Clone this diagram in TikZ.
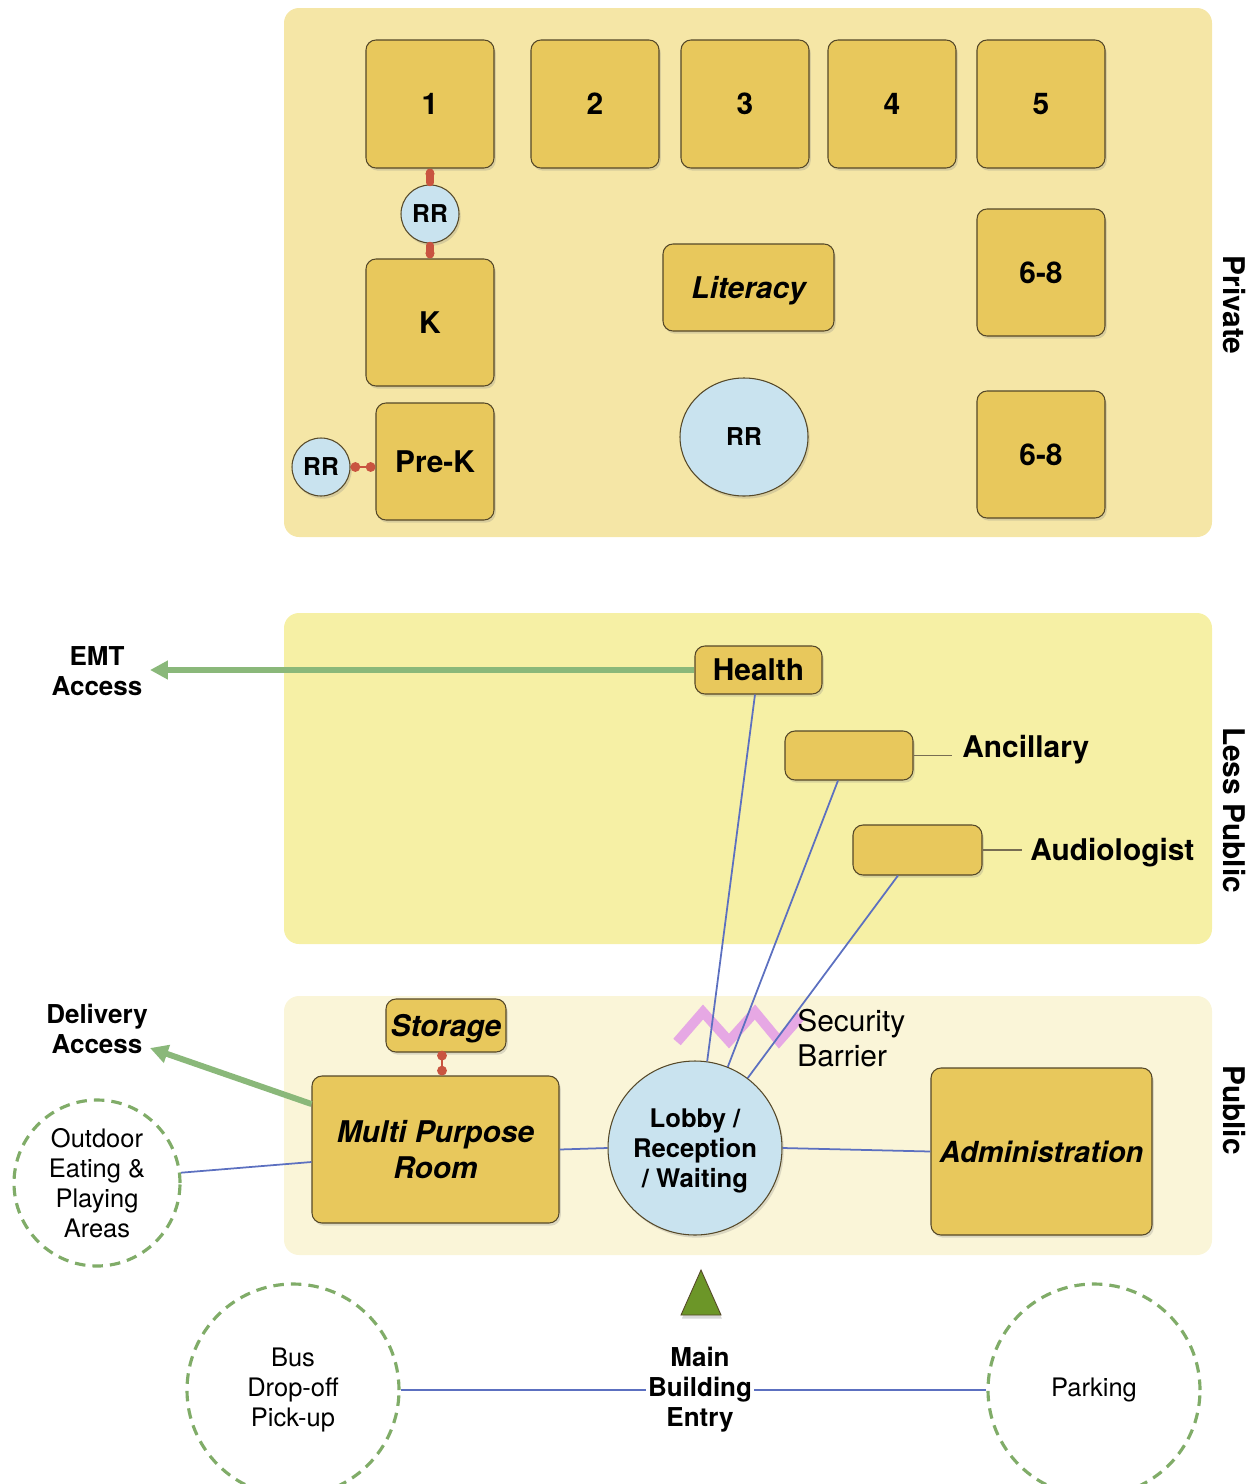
\documentclass[tikz,border=0pt]{standalone}
\usepackage{fontspec}
\setmainfont{TeX Gyre Heros}
\usetikzlibrary{arrows.meta,shadows,shapes.geometric}

\definecolor{privbg}{RGB}{245,230,166}
\definecolor{lessbg}{RGB}{246,240,165}
\definecolor{pubbg}{RGB}{250,245,216}
\definecolor{roomfill}{RGB}{232,200,92}
\definecolor{roomline}{RGB}{85,72,40}
\definecolor{rrfill}{RGB}{201,227,239}
\definecolor{rrred}{RGB}{201,84,64}
\definecolor{linkblue}{RGB}{92,112,192}
\definecolor{accgreen}{RGB}{138,184,122}
\definecolor{zonegreen}{RGB}{128,172,104}
\definecolor{entrygreen}{RGB}{108,150,40}
\definecolor{barrierpink}{RGB}{230,168,228}

\newcommand{\fsz}[2]{\fontsize{#1}{#2}\selectfont}

\begin{document}
\begin{tikzpicture}[x=0.02cm, y=-0.02cm,
  sz/.style 2 args={minimum width=#1*0.02cm, minimum height=#2*0.02cm},
  room/.style={draw=roomline, line width=0.6pt, fill=roomfill, rounded corners=0.2cm,
    inner sep=0pt, align=center, font=\bfseries\fsz{17}{20}, text depth=0pt,
    drop shadow={shadow xshift=1pt, shadow yshift=-1.5pt, opacity=0.25}},
  rr/.style={draw=roomline, line width=0.6pt, fill=rrfill, circle, inner sep=0pt,
    font=\bfseries\fsz{14}{16},
    drop shadow={shadow xshift=1pt, shadow yshift=-1.5pt, opacity=0.25}},
  zone/.style={draw=zonegreen, line width=1.8pt, dash pattern=on 6pt off 4pt,
    circle, inner sep=0pt, align=center, font=\fsz{14.5}{17}},
  link/.style={draw=linkblue, line width=1pt},
  tick/.style={draw=roomline!80, line width=0.6pt},
  wetlink/.style={draw=rrred, line width=4pt, line cap=round},
  drylink/.style={draw=rrred, line width=1.4pt, {Circle[length=5.5pt]}-{Circle[length=5.5pt]}},
  access/.style={draw=accgreen, line width=3.4pt, -{Triangle[length=0.36cm, width=0.36cm]}},
  label/.style={font=\bfseries\fsz{14.8}{17}, align=center},
  side/.style={font=\bfseries\fsz{17}{20}, rotate=-90}
]
\useasboundingbox (0,0) rectangle (1257,1484);

% ---- zone backgrounds
\fill[privbg, rounded corners=0.3cm] (284,8) rectangle (1212,537);
\fill[lessbg, rounded corners=0.3cm] (284,613) rectangle (1212,944);
\fill[pubbg, rounded corners=0.3cm] (284,996) rectangle (1212,1255);

% ---- private wing
\node[room, sz={128}{128}] (c1) at (430,104) {1};
\node[room, sz={128}{128}] (c2) at (595,104) {2};
\node[room, sz={128}{128}] (c3) at (745,104) {3};
\node[room, sz={128}{128}] (c4) at (892,104) {4};
\node[room, sz={128}{128}] (c5) at (1041,104) {5};
\node[rr, minimum size=58*0.02cm] (rr1) at (430,214) {RR};
\node[room, sz={128}{127}] (ck) at (430,322.5) {K};
\node[room, sz={171}{87}, font=\bfseries\itshape\fsz{17}{20}] (lit) at (748.5,287.5) {Literacy};
\node[room, sz={128}{127}] (c68a) at (1041,272.5) {6-8};
\node[rr, ellipse, sz={128}{118}] (rrbig) at (744,437) {RR};
\node[room, sz={128}{127}] (c68b) at (1041,454.5) {6-8};
\node[room, sz={118}{117}] (prek) at (435,461.5) {Pre-K};
\node[rr, minimum size=58*0.02cm] (rr2) at (321,467) {RR};

\draw[wetlink] ([yshift=-2pt]c1.south) -- ([yshift=1pt]rr1.north);
\draw[wetlink] ([yshift=-1pt]rr1.south) -- ([yshift=2pt]ck.north);
\foreach \p in {([yshift=-3pt]c1.south), ([yshift=3pt]ck.north)}
  \fill[rrred] \p circle (2.6pt);
\draw[drylink] (rr2.east) -- (rr2.east -| prek.west);

% ---- less public wing
\node[room, sz={127}{48}] (health) at (758.5,670) {Health};
\node[room, sz={128}{49}] (anc) at (849,755.5) {};
\node[room, sz={129}{50}] (aud) at (917.5,850) {};
\node[font=\bfseries\fsz{17}{20}, anchor=west, inner sep=0pt] (anclab) at (962,750) {Ancillary};
\node[font=\bfseries\fsz{17}{20}, anchor=west, inner sep=0pt] (audlab) at (1030,853) {Audiologist};
\draw[tick] (anc.east) -- ++(38,0);
\draw[tick] (aud.east) -- ++(39,0);

\node[label] (emt) at (97,671) {EMT\\Access};
\coordinate (emttip) at (150,670);
\draw[access] (health.west) -- (emttip);

% ---- public wing
\draw[barrierpink, line width=5.6pt, line join=miter]
  (677,1042) -- (703,1012) -- (729,1041) -- (755,1012) -- (779,1041) -- (801,1016);

\node[room, sz={120}{53}, font=\bfseries\itshape\fsz{17}{20}] (storage) at (446,1025.5) {Storage};
\node[room, sz={247}{147}, font=\bfseries\itshape\fsz{17}{20.5}] (mpr) at (435.5,1149.5) {Multi Purpose\\Room};
\node[rr, minimum size=174*0.02cm, font=\bfseries\fsz{14.6}{17}, align=center, text depth=0pt] (lobby) at (695,1148) {Lobby /\\Reception\\/ Waiting};
\node[room, sz={221}{167}, font=\bfseries\itshape\fsz{16.5}{20}] (admin) at (1041.5,1151.5) {Administration};
\node[zone, minimum size=166*0.02cm] (outdoor) at (97,1183) {Outdoor\\Eating \&\\Playing\\Areas};
\node[font=\fsz{17}{20}, align=left, anchor=west, inner sep=0pt] (secure) at (797,1038) {Security\\Barrier};

\draw[drylink, shorten <=-1pt] ([xshift=-0.08cm]storage.south) -- ([xshift=-0.08cm]storage.south |- mpr.north);
\draw[link] ([xshift=-0.07cm]health.south) -- (lobby.82);
\draw[link] ([xshift=-0.22cm]anc.south) -- (lobby.68);
\draw[link] ([xshift=-0.39cm]aud.south) -- (lobby.53);
\draw[link] (mpr.east) -- (lobby.west);
\draw[link] (lobby.east) -- (admin.west);
\draw[link] (outdoor.7) -- ([yshift=-0.25cm]mpr.west);

\node[label] (delivery) at (97,1029) {Delivery\\Access};
\coordinate (deltip) at (150,1048);
\draw[access] ([yshift=0.91cm]mpr.west) -- (deltip);

\node[side] (sprivate) at (1234,305) {Private};
\node[side] (sless) at (1234,810) {Less Public};
\node[side] (spublic) at (1234,1110) {Public};

% ---- site approach
\fill[entrygreen, draw=roomline, line width=0.5pt,
  drop shadow={shadow xshift=0.5pt, shadow yshift=-2pt, opacity=0.3}]
  (701,1270) -- (721,1315) -- (681,1315) -- cycle;
\node[label, inner sep=1pt] (entry) at (700,1390) {Main\\Building\\Entry};
\node[zone, minimum size=212*0.02cm] (bus) at (293,1390) {Bus\\Drop-off\\Pick-up};
\node[zone, minimum size=212*0.02cm] (parking) at (1094,1390) {Parking};
\draw[link] (bus.east) -- (entry.west);
\draw[link] (entry.east) -- (parking.west);
\end{tikzpicture}
\end{document}
